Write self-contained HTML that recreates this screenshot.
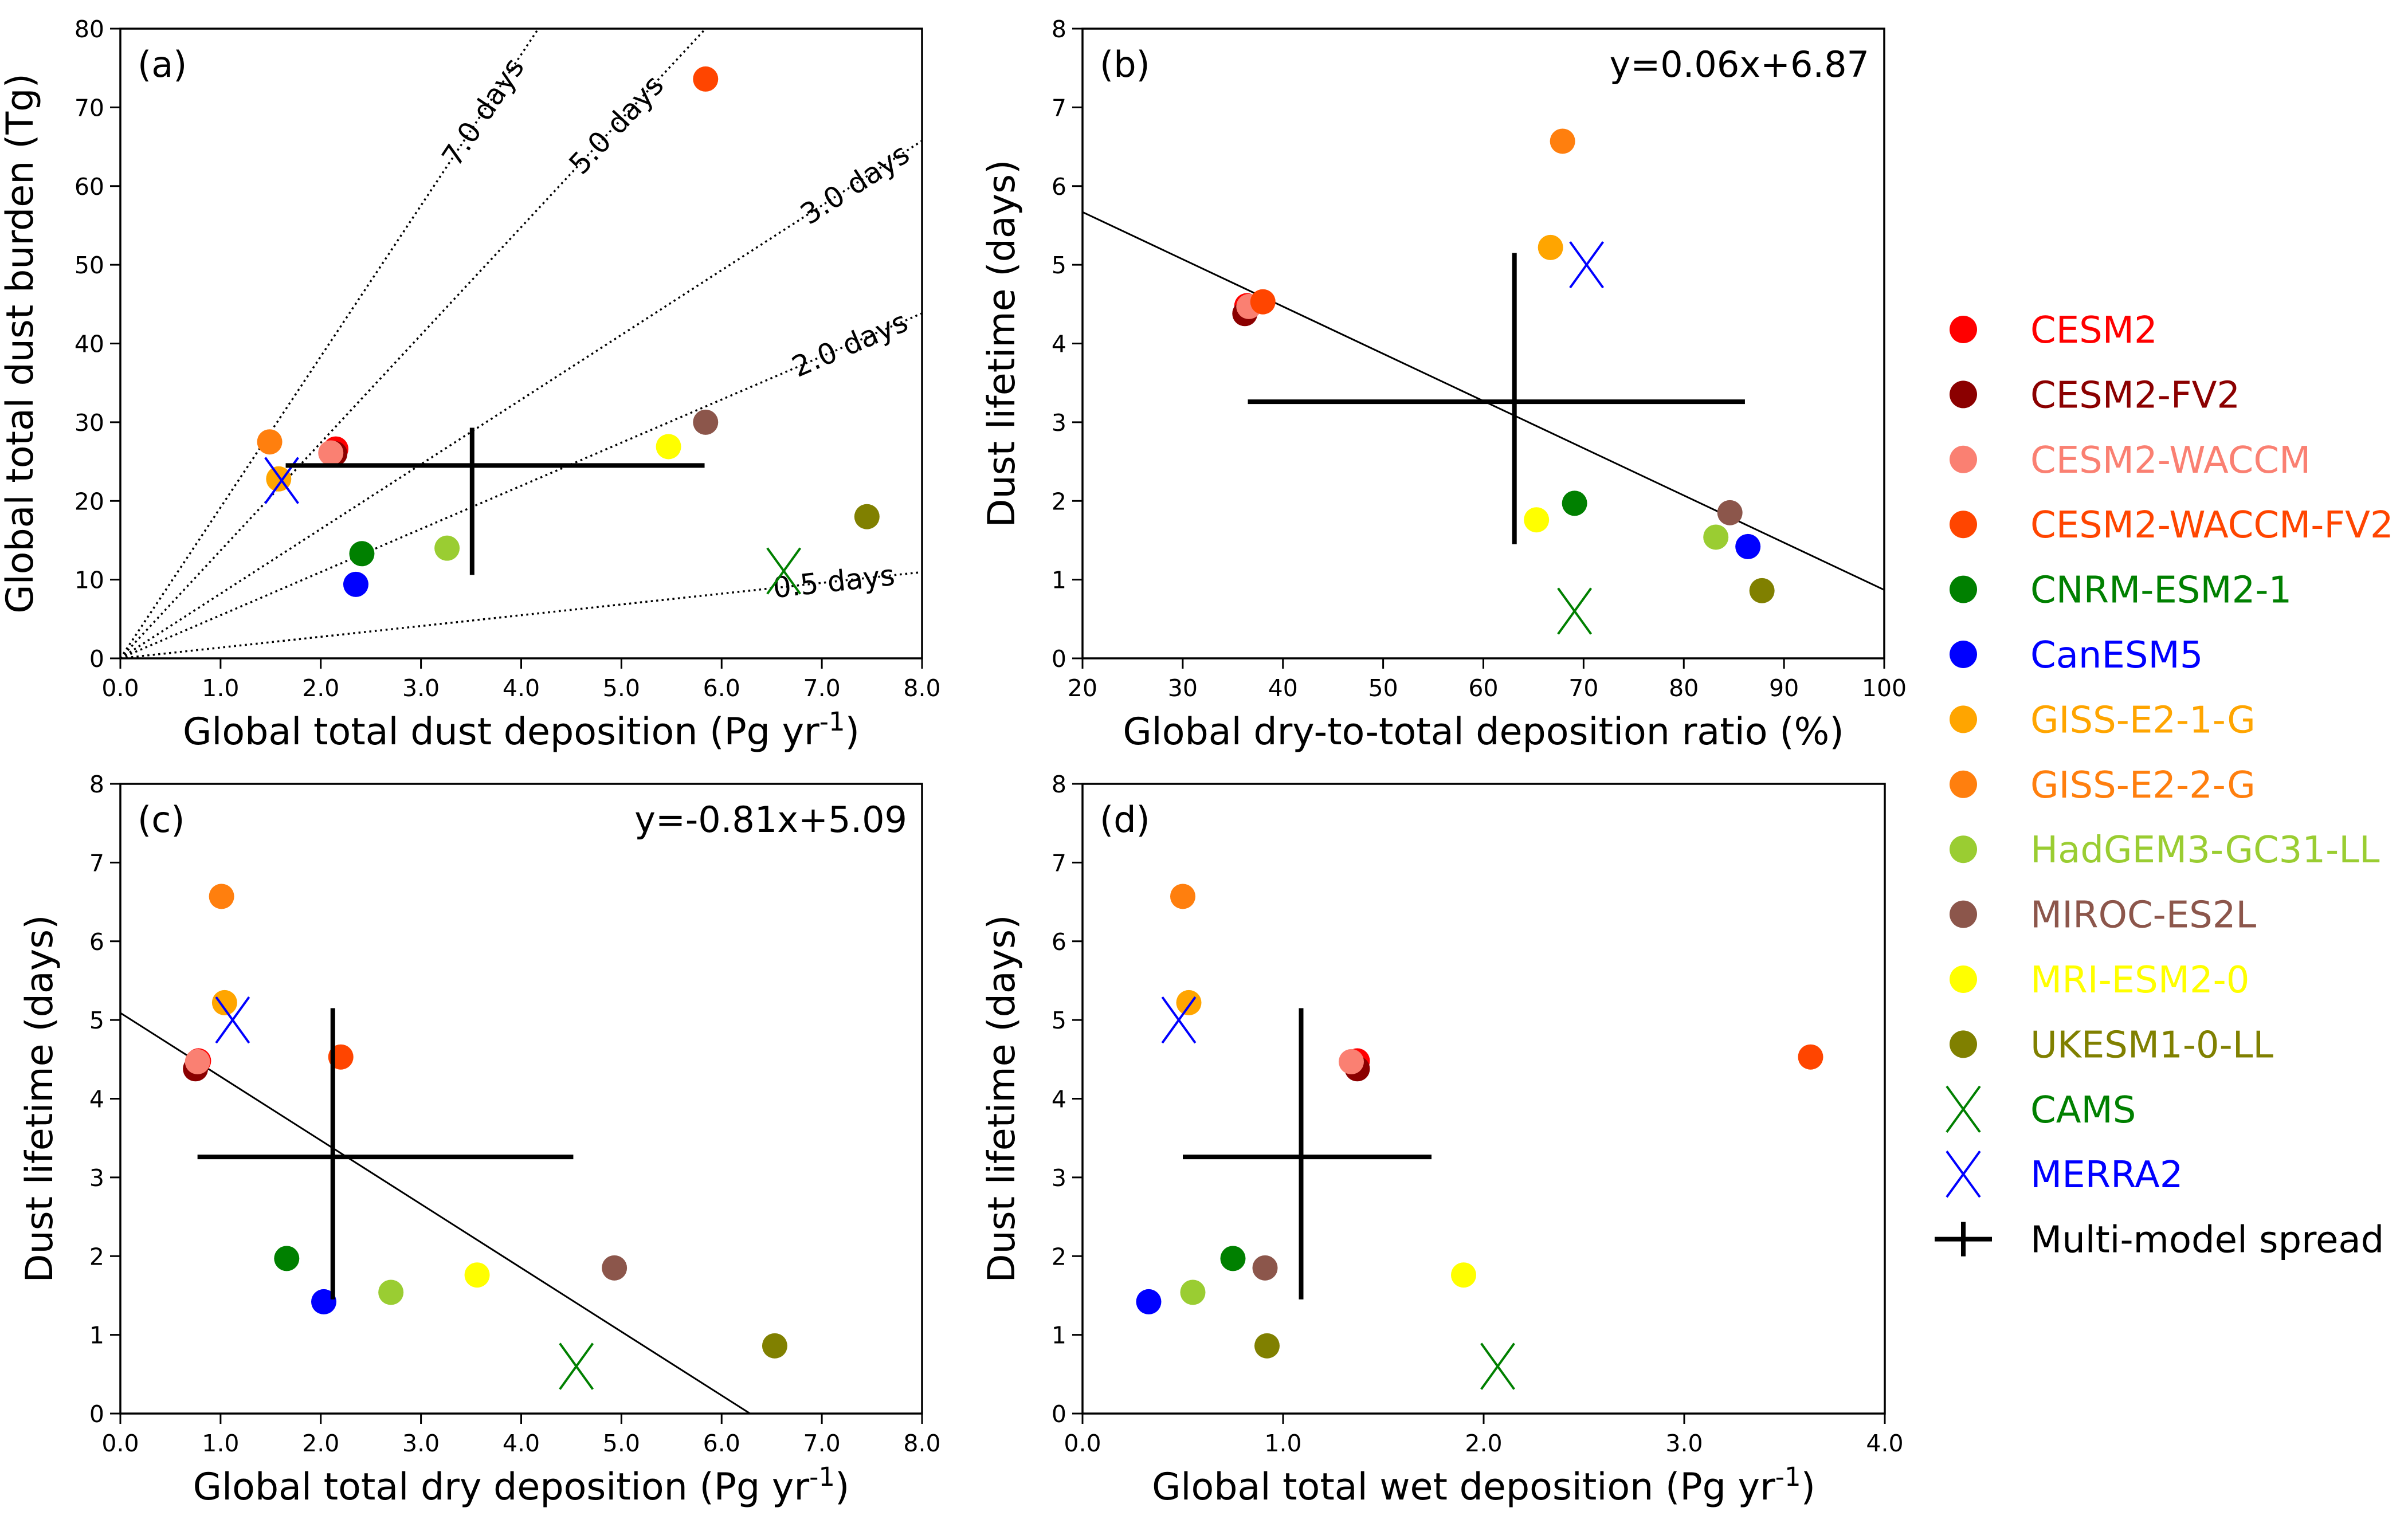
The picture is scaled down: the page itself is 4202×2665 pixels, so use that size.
<!DOCTYPE html>
<html><head><meta charset="utf-8"><style>
html,body{margin:0;padding:0;background:#fff;}
svg{display:block;font-family:"DejaVu Sans","Liberation Sans",sans-serif;}
</style></head><body>
<svg id="fig" width="4202" height="2665" viewBox="0 0 4202 2665" xmlns="http://www.w3.org/2000/svg"></svg>
<script>
// ---- data ----
const models = ["CESM2","CESM2-FV2","CESM2-WACCM","CESM2-WACCM-FV2","CNRM-ESM2-1","CanESM5","GISS-E2-1-G","GISS-E2-2-G","HadGEM3-GC31-LL","MIROC-ES2L","MRI-ESM2-0","UKESM1-0-LL"];
const modelColors = ["#ff0000","#8b0000","#fa8072","#ff4500","#008000","#0000ff","#ffa500","#ff7f0e","#9acd32","#8c564b","#ffff00","#808000"];
const refNames = ["CAMS","MERRA2"];
const refColors = ["#008000","#0000ff"];
// panel a
const depTotal = [2.15,2.14,2.10,5.84,2.41,2.35,1.58,1.49,3.26,5.84,5.47,7.45];
const burden = [26.6,26.0,26.1,73.6,13.3,9.4,22.8,27.5,14.0,30.0,26.9,18.0];
const refDepTotal = [6.62,1.61];
const refBurden = [11.1,22.6];
const lifetimeLines = [7.0,5.0,3.0,2.0,0.5];
const lifetimeLabelX = [3.62,4.95,7.33,7.28,7.12];
const spreadA = {xlo:1.65,xhi:5.83,ymid:24.5,xmid:3.51,ylo:10.6,yhi:29.3};
// lifetimes (days), used in b, c, d
const lifetime = [4.48,4.38,4.47,4.53,1.97,1.42,5.22,6.57,1.54,1.85,1.76,0.86];
const refLifetime = [0.60,5.00];
// panel b
const dryRatio = [36.4,36.2,36.6,38.0,69.1,86.4,66.7,67.9,83.2,84.6,65.3,87.8];
const refDryRatio = [69.1,70.3];
const fitB = [-0.06,6.87];
const spreadB = {xlo:36.5,xhi:86.1,ymid:3.26,xmid:63.1,ylo:1.45,yhi:5.15};
// panel c
const depDry = [0.78,0.75,0.77,2.20,1.66,2.03,1.04,1.01,2.70,4.93,3.56,6.53];
const refDepDry = [4.55,1.12];
const fitC = [-0.81,5.09];
const spreadC = {xlo:0.77,xhi:4.52,ymid:3.26,xmid:2.12,ylo:1.45,yhi:5.15};
// panel d
const depWet = [1.37,1.37,1.34,3.63,0.75,0.33,0.53,0.50,0.55,0.91,1.90,0.92];
const refDepWet = [2.07,0.48];
const spreadD = {xlo:0.50,xhi:1.74,ymid:3.26,xmid:1.09,ylo:1.45,yhi:5.15};
// ticks
const ticksA_x = [0,1,2,3,4,5,6,7,8];
const ticksA_xl = ["0.0","1.0","2.0","3.0","4.0","5.0","6.0","7.0","8.0"];
const ticksA_y = [0,10,20,30,40,50,60,70,80];
const ticksB_x = [20,30,40,50,60,70,80,90,100];
const ticksLife = [0,1,2,3,4,5,6,7,8];
const ticksD_x = [0,1,2,3,4];
const ticksD_xl = ["0.0","1.0","2.0","3.0","4.0"];

const NS="http://www.w3.org/2000/svg";
const svg=document.getElementById('fig');
function mk(tag,attrs,parent){const e=document.createElementNS(NS,tag);for(const k in attrs)e.setAttribute(k,attrs[k]);(parent||svg).appendChild(e);return e;}

function makeAxes(name,L,R,T,B,xmin,xmax,ymin,ymax){
  const g=mk('g',{});
  
  
  const clipId='clip-'+name;
  const cp=mk('clipPath',{id:clipId},g);
  mk('rect',{x:L,y:T,width:R-L,height:B-T},cp);
  const plot=mk('g',{'clip-path':'url(#'+clipId+')'},g);
  return {g,plot,L,R,T,B,
    sx:v=>L+(v-xmin)/(xmax-xmin)*(R-L),
    sy:v=>B-(v-ymin)/(ymax-ymin)*(B-T)};
}
function frame(ax){
  const f=mk('rect',{x:ax.L,y:ax.T,width:ax.R-ax.L,height:ax.B-ax.T,fill:'none',stroke:'#000','stroke-width':3.5},ax.g);
  
  
}
function ticks(ax,xt,xl,yt,yl){
  xt.forEach((v,i)=>{const x=ax.sx(v);
    const t=mk('line',{x1:x,x2:x,y1:ax.B,y2:ax.B+18,stroke:'#000','stroke-width':3},ax.g);
    
    
    const s=mk('text',{x:x,y:ax.B+66,'font-size':41,'text-anchor':'middle'},ax.g);s.textContent=xl[i];
    
    });
  yt.forEach((v,i)=>{const y=ax.sy(v);
    const t=mk('line',{x1:ax.L-18,x2:ax.L,y1:y,y2:y,stroke:'#000','stroke-width':3},ax.g);
    
    
    const s=mk('text',{x:ax.L-28,y:y+15,'font-size':41,'text-anchor':'end'},ax.g);s.textContent=yl[i];
    
    });
}
function labels(ax,xlab,ylab,yx,letter){
  const cx=(ax.L+ax.R)/2, cy=(ax.T+ax.B)/2;
  const xl=mk('text',{x:cx,y:ax.B+150,'font-size':65,'text-anchor':'middle'},ax.g);
  xl.innerHTML=xlab;
  
  
  const yl=mk('text',{x:yx,y:cy,'font-size':65,'text-anchor':'middle',transform:'rotate(-90 '+yx+' '+cy+')'},ax.g);
  yl.textContent=ylab;
  
  
  const pl=mk('text',{x:ax.L+30,y:ax.T+84,'font-size':62},ax.g);
  pl.textContent=letter;
  
  
}
function dots(ax,xs,ys){
  xs.forEach((v,i)=>{const c=mk('circle',{cx:ax.sx(v),cy:ax.sy(ys[i]),r:22,fill:modelColors[i]},ax.plot);
    
    });
}
function crosses(ax,xs,ys){
  xs.forEach((v,i)=>{const x=ax.sx(v),y=ax.sy(ys[i]),h=40;
    const p=mk('path',{d:`M${x-h*0.72},${y-h}L${x+h*0.72},${y+h}M${x-h*0.72},${y+h}L${x+h*0.72},${y-h}`,stroke:refColors[i],'stroke-width':4,fill:'none'},ax.plot);
    
    });
}
function spread(ax,s){
  const p=mk('path',{d:`M${ax.sx(s.xlo)},${ax.sy(s.ymid)}H${ax.sx(s.xhi)}M${ax.sx(s.xmid)},${ax.sy(s.ylo)}V${ax.sy(s.yhi)}`,stroke:'#000','stroke-width':8,fill:'none'},ax.plot);
  
  
}
function fitLine(ax,fit,x0,x1,txt){
  const l=mk('line',{x1:ax.sx(x0),y1:ax.sy(fit[0]*x0+fit[1]),x2:ax.sx(x1),y2:ax.sy(fit[0]*x1+fit[1]),stroke:'#000','stroke-width':3},ax.plot);
  
  
  const t=mk('text',{x:ax.R-26,y:ax.T+84,'font-size':62,'text-anchor':'end'},ax.g);
  t.textContent=txt;
  
  
}
const sup='(Pg yr<tspan dy="-24" font-size="45">-1</tspan><tspan dy="24">)</tspan>';

// Panel a
const A=makeAxes('panel-a',210,1609,50,1149,0,8,0,80);
lifetimeLines.forEach((d,i)=>{
  const k=d*1000/365;
  const l=mk('line',{x1:A.sx(0),y1:A.sy(0),x2:A.sx(8),y2:A.sy(8*k),stroke:'#000','stroke-width':3.5,'stroke-dasharray':'3.5 6'},A.plot);
  
  
  const lx=lifetimeLabelX[i], px=A.sx(lx), py=A.sy(lx*k);
  const ang=Math.atan2(A.sy(k)-A.sy(0),A.sx(1)-A.sx(0))*180/Math.PI;
  const t=mk('text',{x:px,y:py+17,'font-size':50,'text-anchor':'middle',transform:`rotate(${ang} ${px} ${py})`},A.plot);
  t.textContent=d.toFixed(1)+' days';
  
  
});
dots(A,depTotal,burden);crosses(A,refDepTotal,refBurden);spread(A,spreadA);
frame(A);ticks(A,ticksA_x,ticksA_xl,ticksA_y,ticksA_y.map(String));
labels(A,'Global total dust deposition '+sup,'Global total dust burden (Tg)',57,'(a)');

// Panel b
const Bp=makeAxes('panel-b',1889,3288,50,1149,20,100,0,8);
fitLine(Bp,fitB,20,100,'y=0.06x+6.87');
dots(Bp,dryRatio,lifetime);crosses(Bp,refDryRatio,refLifetime);spread(Bp,spreadB);
frame(Bp);ticks(Bp,ticksB_x,ticksB_x.map(String),ticksLife,ticksLife.map(String));
labels(Bp,'Global dry-to-total deposition ratio (%)','Dust lifetime (days)',1770,'(b)');

// Panel c
const C=makeAxes('panel-c',210,1609,1368,2467,0,8,0,8);
fitLine(C,fitC,0,8,'y=-0.81x+5.09');
dots(C,depDry,lifetime);crosses(C,refDepDry,refLifetime);spread(C,spreadC);
frame(C);ticks(C,ticksA_x,ticksA_xl,ticksLife,ticksLife.map(String));
labels(C,'Global total dry deposition '+sup,'Dust lifetime (days)',91,'(c)');

// Panel d
const D=makeAxes('panel-d',1889,3289,1368,2467,0,4,0,8);
dots(D,depWet,lifetime);crosses(D,refDepWet,refLifetime);spread(D,spreadD);
frame(D);ticks(D,ticksD_x,ticksD_xl,ticksLife,ticksLife.map(String));
labels(D,'Global total wet deposition '+sup,'Dust lifetime (days)',1770,'(d)');

// Legend
const leg=mk('g',{});


const entries=models.map((m,i)=>({n:m,c:modelColors[i],t:'dot'})).concat(refNames.map((m,i)=>({n:m,c:refColors[i],t:'x'}))).concat([{n:'Multi-model spread',c:'#000',t:'plus'}]);
entries.forEach((e,i)=>{
  const y=575+i*113.4, x=3426;
  const g=mk('g',{},leg);
  
  
  if(e.t==='dot')mk('circle',{cx:x,cy:y,r:24,fill:e.c},g);
  else if(e.t==='x')mk('path',{d:`M${x-29},${y-40}L${x+29},${y+40}M${x-29},${y+40}L${x+29},${y-40}`,stroke:e.c,'stroke-width':4,fill:'none'},g);
  else mk('path',{d:`M${x-50},${y}H${x+50}M${x},${y-30}V${y+30}`,stroke:'#000','stroke-width':8,fill:'none'},g);
  const t=mk('text',{x:3543,y:y+23,'font-size':64,fill:e.c},g);
  t.textContent=e.n;
});
</script>
</body></html>
